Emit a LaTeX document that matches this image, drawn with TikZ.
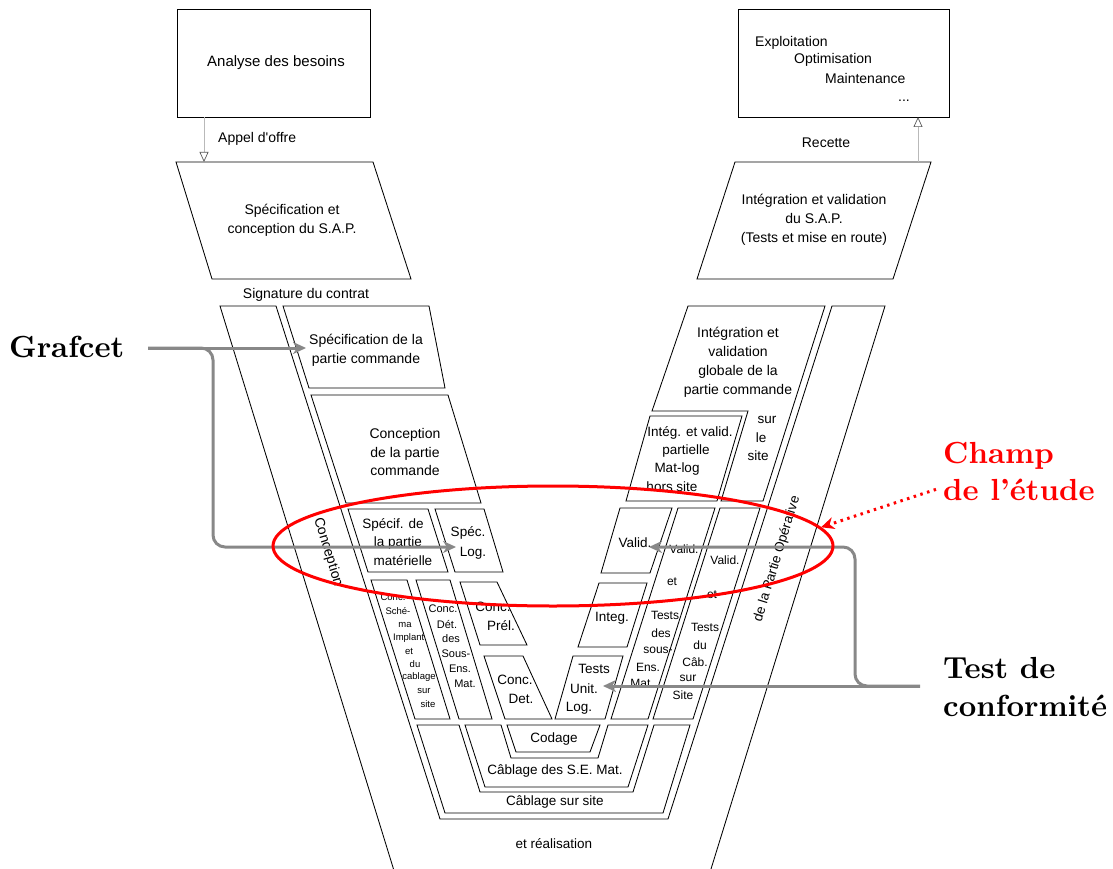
\documentclass[tikz,border=0pt]{standalone}
\usepackage{fontspec}
\newfontfamily\af{Liberation Sans}
\newfontfamily\lmbx{lmroman10-bold.otf}[Ligatures=TeX]
\usetikzlibrary{arrows.meta,shapes.geometric}
\definecolor{arrgray}{RGB}{136,136,136}
\definecolor{lgray}{RGB}{185,185,185}
\begin{document}
\begin{tikzpicture}[x=1pt,y=-1pt,
 bx/.style={draw=black,line width=0.85pt,line join=miter},
 t/.style={font=\af\fontsize{14}{19}\selectfont,inner sep=0pt,align=center},
 tl/.style={font=\af\fontsize{13.5}{18.5}\selectfont,inner sep=0pt,align=center},
 tn/.style={font=\af\fontsize{12}{14}\selectfont,inner sep=0pt},
 tm/.style={font=\af\fontsize{11}{13}\selectfont,inner sep=0pt},
 ts/.style={font=\af\fontsize{9.5}{11}\selectfont,inner sep=0pt},
 big/.style={font=\lmbx\fontsize{30.5}{36}\selectfont,inner sep=0pt,anchor=base west},
 garr/.style={draw=arrgray,line width=3pt,-{Stealth[length=13pt,width=12pt,inset=4pt]}},
 thinarr/.style={draw=lgray,line width=0.7pt,-{Triangle[open,length=10pt,width=9pt,color=black!65]}},
 ]
\useasboundingbox (0,0) rectangle (1113,869);

% ---------- top blocks ----------
\draw[bx] (177,9) rectangle (370,117);
\node[t,font=\af\fontsize{15}{19}\selectfont] (analyse) at (276,63) {Analyse des besoins};
\draw[bx] (176,162) -- (373,162) -- (411,279) -- (212,279) -- cycle;
\node[t] (specsap) at (292,220) {Sp\'ecification et\\conception du S.A.P.};
\node[t,anchor=west] (appel) at (218,139) {Appel d\textquotesingle offre};
\node[t] (signature) at (306,295) {Signature du contrat};

\draw[bx] (738,9) rectangle (949,117);
\node[t,anchor=base west] (exploit) at (755,47) {Exploitation};
\node[t,anchor=base west] (optim) at (794,64) {Optimisation};
\node[t,anchor=base west] (maint) at (825,84) {Maintenance};
\node[t] (dots) at (904,101) {...};
\draw[bx] (735,162) -- (931,162) -- (893,279) -- (697,279) -- cycle;
\node[t] (intsap) at (814,220) {Int\'egration et validation\\du S.A.P.\\(Tests et mise en route)};
\node[t] (recette) at (826,143) {Recette};

\coordinate (appA) at (204,117);
\coordinate (appB) at (204,162);
\draw[thinarr] (appA) -- (appB);
\coordinate (recA) at (918,162);
\coordinate (recB) at (918,117);
\draw[thinarr] (recA) -- (recB);

% ---------- outer V (partie operative) ----------
\draw[bx] (393.5,869) -- (220,306) -- (276,306) -- (440,819) -- (668,819) -- (832,306) -- (885,306) -- (711,869);
\node[t,rotate=-73] (concep) at (328,552) {Conception};
\node[tl,rotate=73] (partieop) at (777,559) {de la Partie Op\'erative};
\node[tl] (realis) at (554,844) {et r\'ealisation};

% ---------- left side ----------
\draw[bx] (283,306) -- (429,306) -- (445,388) -- (309,388) -- cycle;
\node[t] (specpc) at (366,350) {Sp\'ecification de la\\partie commande};
\draw[bx] (311,395) -- (448,395) -- (481,503) -- (346,503) -- cycle;
\node[t,font=\af\fontsize{14}{18.5}\selectfont] (concpc) at (405,452) {Conception\\de la partie\\commande};

\draw[bx] (348,509) -- (428,509) -- (448,572) -- (368,572) -- cycle;
\node[tl] (sm1) at (393,525) {Sp\'ecif. de};
\node[tl] (sm2) at (398,543) {la partie};
\node[tl] (sm3) at (403,561) {mat\'erielle};
\draw[bx] (435,509) -- (484,509) -- (503,572) -- (455,572) -- cycle;
\node[tl] (sl1) at (468,533) {Sp\'ec.};
\node[tl] (sl2) at (473,553) {Log.};

\draw[bx] (371,580) -- (407,580) -- (450,719) -- (415,719) -- cycle;
\foreach \s/\x/\y [count=\i] in {Conc./393/597, Sch\'e-/398/611, ma/405/625, Implant./410/638, et/409/651, du/415/664, cablage/419/677, sur/424/691, site/428/704}
  \node[ts] (cs\i) at (\x,\y) {\s};
\draw[bx] (416,580) -- (450,580) -- (492,719) -- (459,719) -- cycle;
\foreach \s/\x/\y [count=\i] in {Conc./443/609, D\'et./447/624, des/451/639, Sous-/456/654, Ens./460/669, Mat./465/684}
  \node[tm] (cd\i) at (\x,\y) {\s};
\draw[bx] (460,582) -- (497,582) -- (527,645) -- (480,645) -- cycle;
\node[tl] (cp1) at (493,607) {Conc.};
\node[tl] (cp2) at (501,626) {Pr\'el.};
\draw[bx] (484,656) -- (523,656) -- (552,719) -- (505,719) -- cycle;
\node[tl] (cdt1) at (515,680) {Conc.};
\node[tl] (cdt2) at (521,699) {Det.};

% ---------- right side ----------
\draw[bx] (688,306) -- (825,306) -- (763,501) -- (721,501) -- (748,411) -- (652,411) -- cycle;
\node[t] (intglob) at (738,362) {Int\'egration et\\validation\\globale de la\\partie commande};
\node[tl] (sur1) at (767,420) {sur};
\node[tl] (sur2) at (761,438) {le};
\node[tl] (sur3) at (758,456) {site};
\draw[bx] (650,416) -- (742,416) -- (717,501) -- (626,501) -- cycle;
\node[tl] (ip1) at (690,433) {Int\'eg. et valid.};
\node[tl] (ip2) at (686,451) {partielle};
\node[tl] (ip3) at (677,469) {Mat-log};
\node[tl] (ip4) at (672,487) {hors site};

\draw[bx] (620,508) -- (672,508) -- (650,573) -- (601,573) -- cycle;
\node[tl] (valid) at (635,543) {Valid.};
\draw[bx] (678,508) -- (715,508) -- (648,719) -- (611,719) -- cycle;
\foreach \s/\x/\y [count=\i] in {Valid./684/549, et/672/582, Tests/665/615, des/661/633, sous-/658/650, Ens./648/667, Mat./642/683}
  \node[tn] (va\i) at (\x,\y) {\s};
\draw[bx] (720,508) -- (760,508) -- (693,719) -- (653,719) -- cycle;
\foreach \s/\x/\y [count=\i] in {Valid./725/560, et/712/595, Tests/705/627, du/700/645, C\^ab./695/662, sur/688/678, Site/683/695}
  \node[tn] (vb\i) at (\x,\y) {\s};
\draw[bx] (599,583) -- (647,583) -- (627,647) -- (578,647) -- cycle;
\node[tl] (integ) at (612,618) {Integ.};
\draw[bx] (573,656) -- (623,656) -- (605,719) -- (555,719) -- cycle;
\node[tl] (tu1) at (594,669) {Tests};
\node[tl] (tu2) at (584,689) {Unit.};
\node[tl] (tu3) at (579,708) {Log.};

% ---------- bottom ----------
\draw[bx] (417,725) -- (459,725) -- (480,792) -- (633,792) -- (654,725) -- (690,725) -- (663,813) -- (445,813) -- cycle;
\node[tl] (cabsite) at (555,802) {C\^ablage sur site};
\draw[bx] (465,725) -- (501,725) -- (511,758) -- (598,758) -- (608,725) -- (648,725) -- (628,787) -- (485,787) -- cycle;
\node[tl] (cabse) at (555,771) {C\^ablage des S.E. Mat.};
\draw[bx] (507,725) -- (600,725) -- (590,752) -- (516,752) -- cycle;
\node[tl] (codage) at (554,739) {Codage};

% ---------- side labels ----------
\node[big] (grafcet) at (9,357) {Grafcet};
\node[big,red] (champ1) at (943,463) {Champ};
\node[big,red] (champ2) at (943,500) {de l'\'etude};
\node[big] (test1) at (943,678) {Test de};
\node[big] (test2) at (943,716) {conformit\'e};

% ---------- gray arrows ----------
\coordinate (gstart) at (148,348);
\coordinate (tipPC) at (306,348);
\coordinate (tipLog) at (456,547);
\draw[garr] (gstart) -- (tipPC);
\draw[garr,rounded corners=12pt] (gstart) -| (213,547) -- (tipLog);
\coordinate (tstart) at (920,686);
\coordinate (tipTests) at (603,686);
\coordinate (tipValid) at (649,547);
\draw[garr] (tstart) -- (tipTests);
\draw[garr,rounded corners=12pt] (tstart) -| (855,547) -- (tipValid);

% ---------- red ellipse ----------
\node[draw=red,line width=3pt,ellipse,minimum width=560pt,minimum height=120pt,inner sep=0pt] (etude) at (553,546) {};
\draw[red,line width=3pt,dash pattern=on 2.5pt off 4.5pt,-{Stealth[length=13pt,width=12pt,inset=4pt]}] ([xshift=-7pt]champ2.west) -- (etude.4);
\end{tikzpicture}
\end{document}
